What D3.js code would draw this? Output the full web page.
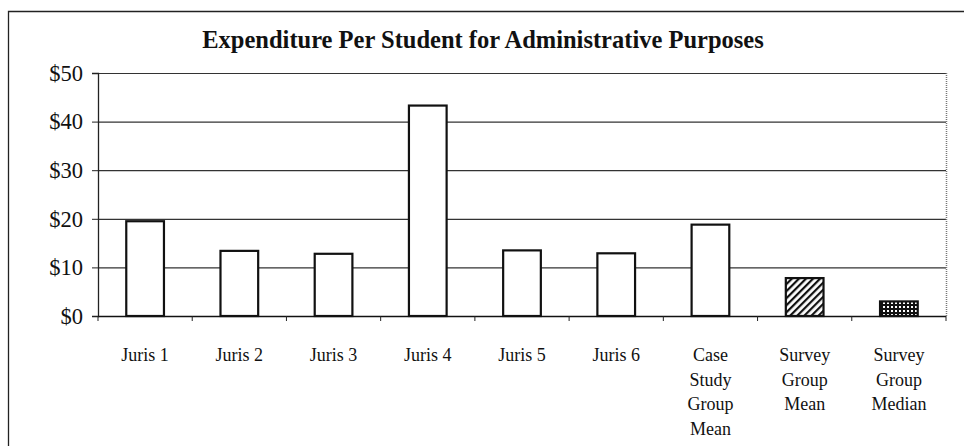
<!DOCTYPE html>
<html>
<head>
<meta charset="utf-8">
<script src="https://cdn.jsdelivr.net/npm/d3@7"></script>
<style>
  body { margin: 0; background: #fff; }
  svg text { font-family: "Liberation Serif", "Times New Roman", serif; fill: #111; }
</style>
</head>
<body>
<div id="chart"></div>
<script>
// data
var categories = ["Juris 1", "Juris 2", "Juris 3", "Juris 4", "Juris 5", "Juris 6",
                  "Case Study Group Mean", "Survey Group Mean", "Survey Group Median"];
var values = [19.5, 13.4, 12.8, 43.3, 13.5, 12.9, 18.8, 7.8, 3.0];
var fills = ["plain", "plain", "plain", "plain", "plain", "plain", "plain", "hatch", "dots"];
var yTicks = [0, 10, 20, 30, 40, 50];

var W = 964, H = 446;
var margin = { top: 73, right: 18, bottom: 130, left: 98 };
var width = W - margin.left - margin.right,
    height = H - margin.top - margin.bottom;
var serif = '"Liberation Serif", "Times New Roman", serif';

var svg = d3.select("#chart").append("svg")
    .attr("width", W)
    .attr("height", H);

// patterns
var defs = svg.append("defs");
var hatch = defs.append("pattern")
    .attr("id", "hatch")
    .attr("patternUnits", "userSpaceOnUse")
    .attr("width", 5).attr("height", 5)
    .attr("patternTransform", "rotate(45)");
hatch.append("rect").attr("width", 5).attr("height", 5).attr("fill", "#fff");
hatch.append("rect").attr("width", 2.2).attr("height", 5).attr("fill", "#111");

var dots = defs.append("pattern")
    .attr("id", "dots")
    .attr("patternUnits", "userSpaceOnUse")
    .attr("width", 4).attr("height", 4);
dots.append("rect").attr("width", 4).attr("height", 4).attr("fill", "#111");
dots.append("rect").attr("x", 1).attr("y", 1).attr("width", 2).attr("height", 2).attr("fill", "#fff");

// outer frame
svg.append("path")
    .attr("d", "M8.5," + H + "V11.5H" + W)
    .attr("fill", "none")
    .attr("stroke", "#222")
    .attr("stroke-width", 1.3);

svg.append("text")
    .attr("x", 483)
    .attr("y", 48)
    .attr("text-anchor", "middle")
    .style("font-family", serif)
    .style("font-size", "24.5px")
    .style("font-weight", "bold")
    .text("Expenditure Per Student for Administrative Purposes");

var g = svg.append("g")
    .attr("transform", "translate(" + margin.left + "," + margin.top + ")");

var x = d3.scaleBand()
    .domain(categories)
    .range([0, width])
    .paddingInner(0.6)
    .paddingOuter(0.3);

var y = d3.scaleLinear()
    .domain([0, 50])
    .range([height, 0]);

// gridlines
g.selectAll(".grid")
    .data(yTicks.filter(function (d) { return d > 0; }))
    .enter().append("line")
    .attr("class", "grid")
    .attr("x1", 0).attr("x2", width)
    .attr("y1", function (d) { return y(d) + 0.5; })
    .attr("y2", function (d) { return y(d) + 0.5; })
    .attr("stroke", "#333")
    .attr("stroke-width", 1.2);

// plot right border
g.append("line")
    .attr("x1", width + 0.5).attr("x2", width + 0.5)
    .attr("y1", 0).attr("y2", height)
    .attr("stroke", "#777").attr("stroke-width", 1.5)
    .attr("stroke-dasharray", "1,1");

// y axis
var yAxis = g.append("g")
    .call(d3.axisLeft(y).tickValues(yTicks).tickSize(6).tickPadding(9)
        .tickFormat(function (d) { return "$" + d; }))
    .attr("font-family", serif);
yAxis.select(".domain").attr("stroke", "#222").attr("stroke-width", 1.3);
yAxis.selectAll(".tick line").attr("stroke", "#222");
yAxis.selectAll("text")
    .style("font-family", serif)
    .style("font-size", "22.5px")
    .attr("fill", "#111");

// x axis with ticks at category boundaries
var step = x.step();
var xAxis = g.append("g")
    .attr("transform", "translate(0," + height + ")");
xAxis.append("line")
    .attr("x1", 0).attr("x2", width)
    .attr("y1", 0.5).attr("y2", 0.5)
    .attr("stroke", "#111").attr("stroke-width", 1.6);
xAxis.selectAll(".xtick")
    .data(d3.range(categories.length + 1))
    .enter().append("line")
    .attr("class", "xtick")
    .attr("x1", function (i) { return i * step; })
    .attr("x2", function (i) { return i * step; })
    .attr("y1", 0).attr("y2", 5)
    .attr("stroke", "#222");

var labels = xAxis.selectAll(".xlabel")
    .data(categories)
    .enter().append("text")
    .attr("class", "xlabel")
    .attr("text-anchor", "middle")
    .attr("transform", function (d) { return "translate(" + (x(d) + x.bandwidth() / 2) + ",0)"; })
    .style("font-family", serif)
    .style("font-size", "18px");
labels.each(function (d) {
    var words = d.split(" ");
    var lines = d.indexOf("Juris") === 0 ? [d] : words;
    var t = d3.select(this);
    lines.forEach(function (w, i) {
        t.append("tspan").attr("x", 0).attr("y", 45 + i * 24.5).text(w);
    });
});

// bars
g.selectAll(".bar")
    .data(categories)
    .enter().append("rect")
    .attr("class", "bar")
    .attr("x", function (d) { return x(d); })
    .attr("width", x.bandwidth())
    .attr("y", function (d, i) { return y(values[i]); })
    .attr("height", function (d, i) { return height - y(values[i]); })
    .attr("fill", function (d, i) { return fills[i] === "plain" ? "#fff" : "url(#" + fills[i] + ")"; })
    .attr("stroke", "#111")
    .attr("stroke-width", 2.2);
</script>
</body>
</html>
